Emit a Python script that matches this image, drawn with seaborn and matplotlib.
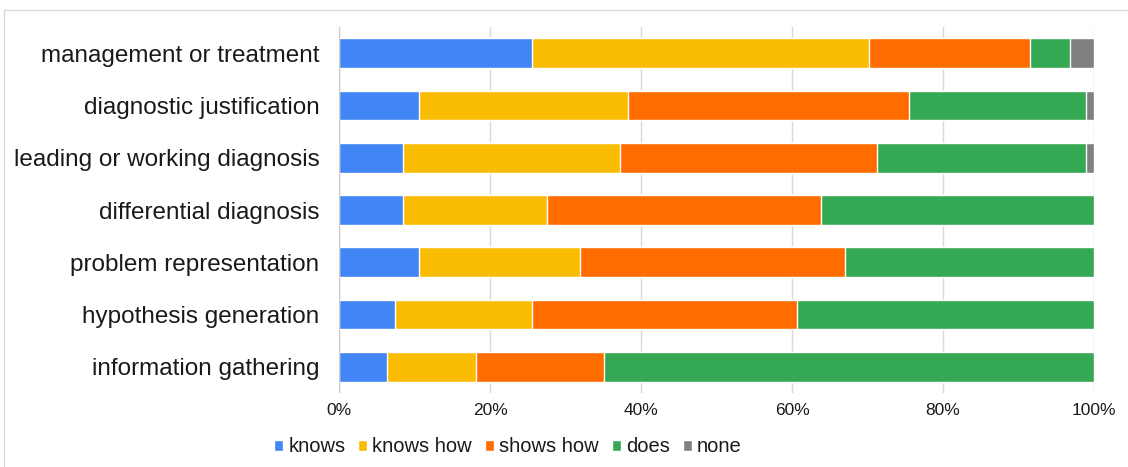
import numpy as np
import pandas as pd
import matplotlib
matplotlib.use("Agg")
import matplotlib.pyplot as plt
import seaborn as sns
from matplotlib.patches import Patch, Rectangle

# values (percent of responses per step)
steps = ["management or treatment", "diagnostic justification",
         "leading or working diagnosis", "differential diagnosis",
         "problem representation", "hypothesis generation",
         "information gathering"]
levels = ["knows", "knows how", "shows how", "does", "none"]
knows = [25.5, 10.6, 8.5, 8.5, 10.6, 7.4, 6.4]
knows_how = [44.7, 27.7, 28.7, 19.1, 21.3, 18.1, 11.7]
shows_how = [21.3, 37.2, 34.0, 36.2, 35.1, 35.1, 17.0]
does = [5.3, 23.4, 27.7, 36.2, 33.0, 39.4, 64.9]
none = [3.2, 1.1, 1.1, 0.0, 0.0, 0.0, 0.0]
colors = ["#4285F4", "#FBBC04", "#FF6D01", "#34A853", "#808080"]

df = pd.DataFrame({"step": steps, "knows": knows, "knows how": knows_how,
                   "shows how": shows_how, "does": does, "none": none})
cum = df[levels].cumsum(axis=1)

sns.set_style("white")
plt.rcParams["font.family"] = ["Liberation Sans", "DejaVu Sans"]

fig = plt.figure(figsize=(11.28, 4.67), dpi=100)
ax = fig.add_axes([339 / 1128, 1 - 393 / 467, 755 / 1128, 366 / 467])

# draw the widest cumulative layer first so the inner ones sit on top
for lvl, col in reversed(list(zip(levels, colors))):
    sns.barplot(x=cum[lvl], y=df["step"], orient="h", color=col,
                width=0.57, saturation=1, ax=ax, zorder=3)

ax.set_xlim(0, 100)
ax.set_xticks(np.arange(0, 101, 20))
ax.set_xticklabels([f"{t}%" for t in range(0, 101, 20)], fontsize=12.5)
ax.grid(axis="x", color="#d9d9d9", lw=1, zorder=0)
ax.set_xlabel("")
ax.set_ylabel("")
ax.tick_params(axis="y", labelsize=17.5, length=0, pad=14, labelcolor="#1a1a1a")
ax.tick_params(axis="x", length=0, pad=7, labelcolor="#1a1a1a")
for s in ax.spines.values():
    s.set_visible(False)
ax.axvline(0, color="#cccccc", lw=1, zorder=4)

handles = [Patch(facecolor=c, label=l) for l, c in zip(levels, colors)]
fig.legend(handles=handles, loc="center", ncol=5, frameon=False,
           bbox_to_anchor=(508 / 1128, 1 - 447 / 467), fontsize=14.5,
           handlelength=0.45, handleheight=0.45, handletextpad=0.25,
           columnspacing=0.65, borderaxespad=0, labelcolor="#1a1a1a")

# faint frame around the chart, as in the screenshot
fig.patches.append(Rectangle((4 / 1128, -0.1), 1.2, 1 - 10 / 467 + 0.1,
                             transform=fig.transFigure, fill=False,
                             edgecolor="#d9d9d9", lw=1))

fig.savefig("out.png", dpi=100)
